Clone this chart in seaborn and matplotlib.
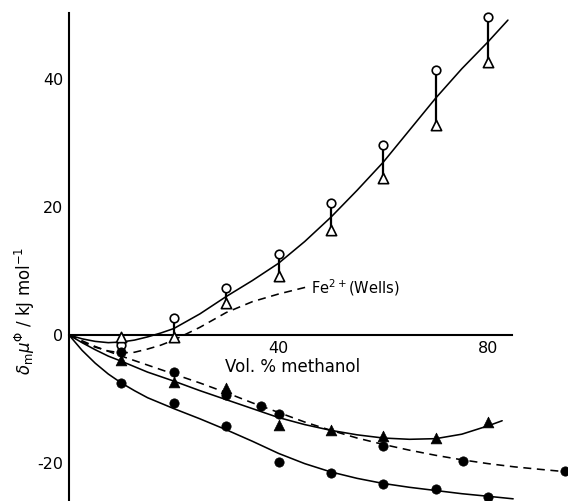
import matplotlib
matplotlib.use("Agg")
import matplotlib.pyplot as plt
import seaborn as sns

sns.set_style("white")
plt.rcParams['font.family'] = ['DejaVu Sans']
plt.rcParams['axes.unicode_minus'] = False

# ---------------- data ----------------
# upper group: open circles / open triangles joined by bars
pts_x = [10, 20, 30, 40, 50, 60, 70, 80]
open_circle_y = [-1.5, 2.7, 7.4, 12.6, 20.6, 29.7, 41.4, 49.7]
open_tri_y = [-0.3, -0.3, 5.0, 9.2, 16.4, 24.5, 32.8, 42.7]

# upper solid curve
upper_x = [0, 2.5, 5, 7.5, 10, 12.5, 15, 17.5, 20, 25, 30, 35, 40, 45, 50, 55, 60,
           65, 70, 75, 80, 83.8]
upper_y = [0, -0.6, -1.0, -1.2, -1.1, -0.8, -0.3, 0.3, 1.0, 3.3, 6.0, 8.5, 11.2,
           14.6, 18.4, 22.6, 27.0, 32.0, 37.0, 41.6, 45.8, 49.2]

# Fe2+ (Wells) dashed curve
fe_x = [0, 2.5, 5, 7.5, 10, 12.5, 15, 17.5, 20, 25, 30, 35, 40, 45.4]
fe_y = [0, -1.1, -1.9, -2.5, -2.8, -2.7, -2.2, -1.6, -0.8, 1.2, 3.5, 5.2, 6.4, 7.5]

# filled triangles and their solid curve
ftri_y = [-3.9, -7.3, -8.3, -14.1, -14.8, -15.8, -16.1, -13.6]
mid_x = [0, 2.5, 5, 7.5, 10, 15, 20, 25, 30, 35, 40, 45, 50, 55, 60, 65, 70, 75,
         80, 82.7]
mid_y = [0, -1.2, -2.3, -3.3, -4.1, -5.8, -7.2, -8.7, -10.1, -11.5, -12.9, -14.0,
         -14.9, -15.6, -16.1, -16.3, -16.2, -15.5, -14.2, -13.4]

# filled circles on the dashed curve
fdc_x = [10, 20, 30, 36.7, 40, 60, 75.2, 94.7]
fdc_y = [-2.7, -5.8, -9.4, -11.1, -12.3, -17.3, -19.7, -21.3]
dash_x = [0, 5, 10, 15, 20, 25, 30, 35, 40, 45, 50, 55, 60, 65, 70, 75, 80, 85,
          90, 95.3]
dash_y = [0, -1.8, -3.3, -4.7, -6.1, -7.5, -9.0, -10.6, -12.1, -13.6, -14.9,
          -16.1, -17.1, -18.0, -18.8, -19.5, -20.1, -20.6, -21.0, -21.4]

# lowest series: filled circles and solid curve
fbc_y = [-7.5, -10.7, -14.2, -19.8, -21.6, -23.3, -24.1, -25.3]
low_x = [0, 2.5, 5, 7.5, 10, 12.5, 15, 20, 25, 30, 35, 40, 45, 50, 55, 60, 65,
         70, 75, 80, 84.8]
low_y = [0, -2.4, -4.4, -6.1, -7.5, -8.7, -9.8, -11.5, -13.1, -14.8, -16.6,
         -18.5, -20.1, -21.4, -22.4, -23.2, -23.8, -24.3, -24.8, -25.2, -25.6]

xticks = [40, 80]
yticks = [-20, 0, 20, 40]
ytick_labels = ["-20", "0", "20", "40"]

# ---------------- figure ----------------
fig = plt.figure(figsize=(5.68, 5.01), dpi=100)
ax = fig.add_axes([0, 0, 1, 1])
ax.set_xlim(-13.17, 95.27)
ax.set_ylim(-25.94, 52.34)
ax.patch.set_alpha(0)

lw = 1.15
dash = (0, (5, 3.5))
sns.lineplot(x=upper_x, y=upper_y, ax=ax, color='black', lw=lw, sort=False, estimator=None)
sns.lineplot(x=mid_x, y=mid_y, ax=ax, color='black', lw=lw, sort=False, estimator=None)
sns.lineplot(x=low_x, y=low_y, ax=ax, color='black', lw=lw, sort=False, estimator=None)
sns.lineplot(x=fe_x, y=fe_y, ax=ax, color='black', lw=lw, sort=False, estimator=None,
             linestyle=dash)
sns.lineplot(x=dash_x, y=dash_y, ax=ax, color='black', lw=lw, sort=False, estimator=None,
             linestyle=dash)

# error bars between open circles and triangles
ax.vlines(pts_x, open_tri_y, open_circle_y, color='black', lw=1.6, zorder=3)

sns.scatterplot(x=pts_x, y=open_circle_y, ax=ax, marker='o', s=38, color='white',
                edgecolor='black', linewidth=1.2, zorder=4)
sns.scatterplot(x=pts_x, y=open_tri_y, ax=ax, marker='^', s=55, color='white',
                edgecolor='black', linewidth=1.2, zorder=4)
sns.scatterplot(x=pts_x, y=ftri_y, ax=ax, marker='^', s=60, color='black',
                edgecolor='black', linewidth=0.5, zorder=4)
sns.scatterplot(x=fdc_x, y=fdc_y, ax=ax, marker='o', s=45, color='black',
                edgecolor='black', linewidth=0.5, zorder=4)
sns.scatterplot(x=pts_x, y=fbc_y, ax=ax, marker='o', s=45, color='black',
                edgecolor='black', linewidth=0.5, zorder=4)

# axes through origin
for side in ['top', 'right']:
    ax.spines[side].set_visible(False)
ax.spines['left'].set_position(('data', 0))
ax.spines['bottom'].set_position(('data', 0))
ax.spines['left'].set_bounds(-25.94, 50.3)
ax.spines['bottom'].set_bounds(0, 84.6)
for side in ['left', 'bottom']:
    ax.spines[side].set_linewidth(1.5)
    ax.spines[side].set_color('black')
    ax.spines[side].set_zorder(2)

ax.set_xticks(xticks)
ax.set_xticklabels([str(t) for t in xticks])
ax.set_yticks(yticks)
ax.set_yticklabels(ytick_labels)
ax.tick_params(axis='both', direction='in', length=7, width=1.2, color='black',
               labelsize=11.5, labelcolor='black')
ax.tick_params(axis='y', pad=4)
ax.tick_params(axis='x', pad=4)
ax.set_xlabel('')
ax.set_ylabel('')

ax.text(-8.4, 3.8, r'$\delta_{\rm m}\mu^{\Phi}$ / kJ mol$^{-1}$', rotation=90,
        ha='center', va='center', fontsize=12, color='black')
ax.text(42.6, -5.0, 'Vol. % methanol', ha='center', va='center', fontsize=12,
        color='black')
ax.text(46.2, 7.4, r'Fe$^{2+}$(Wells)', ha='left', va='center', fontsize=10.5,
        color='black')

fig.savefig('out.png', dpi=100)
